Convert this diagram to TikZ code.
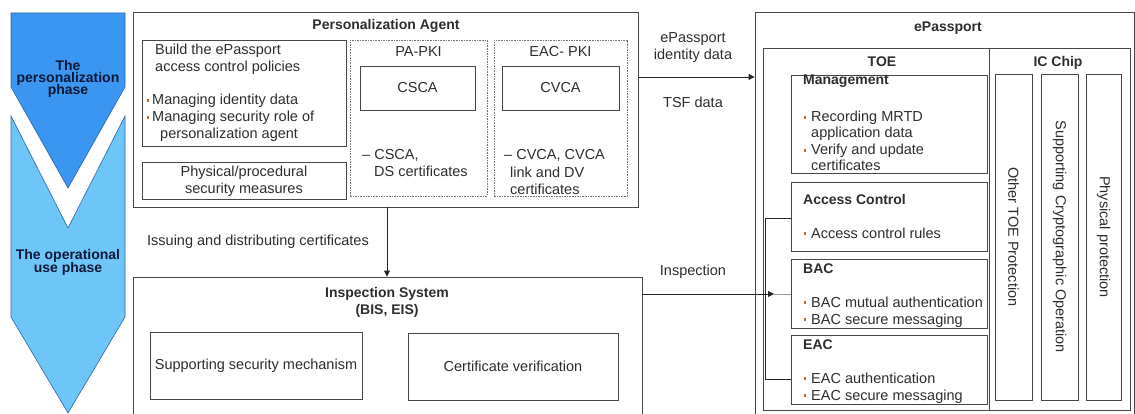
\documentclass[tikz,border=0pt]{standalone}
\usepackage{fontspec}
\setmainfont{Liberation Sans}
\usetikzlibrary{arrows.meta}
\definecolor{phaseA}{RGB}{58,150,240}
\definecolor{phaseB}{RGB}{110,198,248}
\definecolor{phaseLine}{RGB}{40,100,170}
\definecolor{navy}{RGB}{15,25,55}
\definecolor{ink}{RGB}{45,45,45}
\definecolor{bul}{RGB}{190,110,40}
\newcommand\bul[1]{\makebox[#1][l]{\hspace{0.5pt}\textcolor{bul}{\raisebox{3.2pt}{\rule{2.6pt}{2.6pt}}}}}
\begin{document}
\begin{tikzpicture}[x=1pt,y=-1pt,
 every node/.style={font=\fontsize{14.5}{17}\selectfont, text=ink},
 box/.style={draw=black!72, line width=0.9pt, inner sep=0pt},
 dbox/.style={draw=black!55, line width=0.9pt, dash pattern=on 1.6pt off 1pt, inner sep=0pt},
 txt/.style={anchor=base west, inner sep=0pt},
 ctxt/.style={anchor=base, inner sep=0pt},
 bold/.style={font=\fontsize{14}{17}\selectfont\bfseries},
 arr/.style={draw=black!85, line width=0.9pt, -{Triangle[length=6pt,width=6pt]}},
 conn/.style={draw=black!85, line width=0.9pt},
 phase/.style={draw=phaseLine, line width=0.6pt},
 phtxt/.style={anchor=base, inner sep=0pt, text=navy, font=\fontsize{14}{12.5}\selectfont\bfseries}]
\path[use as bounding box] (0,0) rectangle (1135,414);
\clip (0,0) rectangle (1135,414);

% phase arrows
\draw[phase, fill=phaseA] (11,13) -- (125,13) -- (125,87) -- (68,188) -- (11,87) -- cycle;
\draw[phase, fill=phaseB] (11,116) -- (68,228) -- (125,116) -- (125,317) -- (68,413) -- (11,317) -- cycle;
\node[phtxt] (ph1a) at (68,71) {The};
\node[phtxt] (ph1b) at (68,83) {personalization};
\node[phtxt] (ph1c) at (68,95) {phase};
\node[phtxt] (ph2a) at (68,259) {The operational};
\node[phtxt] (ph2b) at (68,272) {use phase};

% personalization agent
\node[box, minimum width=505, minimum height=195] (pa) at (385.5,109.5) {};
\node[ctxt, bold] (patitle) at (386,30) {Personalization Agent};
\node[box, minimum width=204, minimum height=106] (build) at (244,93) {};
\node[txt] (b1) at (155,55) {Build the ePassport};
\node[txt] (b2) at (155,72) {access control policies};
\node[txt] (b3) at (146,105) {\bul{6pt}Managing identity data};
\node[txt] (b4) at (146,122) {\bul{6pt}Managing security role of};
\node[txt] (b5) at (160,139) {personalization agent};
\node[box, minimum width=204, minimum height=37] (phys) at (244,180.5) {};
\node[ctxt] (ph1) at (244,177) {Physical/procedural};
\node[ctxt] (ph2) at (244,194) {security measures};
\node[dbox, minimum width=137, minimum height=156] (papki) at (418.5,118) {};
\node[dbox, minimum width=133, minimum height=156] (eacpki) at (560.5,118) {};
\node[ctxt] (papkit) at (418.5,57) {PA-PKI};
\node[ctxt] (eacpkit) at (560.5,57) {EAC- PKI};
\node[box, minimum width=115, minimum height=44] (csca) at (417.5,88) {CSCA};
\node[box, minimum width=117, minimum height=44] (cvca) at (560.5,88) {CVCA};
\node[txt] (c1) at (362,160) {-- CSCA,};
\node[txt] (c2) at (374,177) {DS certificates};
\node[txt] (d1) at (504,160) {-- CVCA, CVCA};
\node[txt] (d2) at (510,178) {link and DV};
\node[txt] (d3) at (510,195) {certificates};

% inspection system
\node[box, minimum width=509, minimum height=150] (is) at (387.5,352) {};
\node[ctxt, bold] (ist1) at (387,297) {Inspection System};
\node[ctxt, bold] (ist2) at (387,314) {(BIS, EIS)};
\node[box, minimum width=212, minimum height=67] (ssm) at (256,365.5) {Supporting security mechanism};
\node[box, minimum width=210, minimum height=67] (cv) at (513,366.5) {Certificate verification};

% ePassport
\node[box, minimum width=379, minimum height=415] (ep) at (944.5,219.5) {};
\node[ctxt, bold] (eptitle) at (948,32) {ePassport};
\node[box, minimum width=367, minimum height=362] (inner) at (946.5,229) {};
\draw[box] (inner.north -| 989,0) -- (inner.south -| 989,0);
\node[ctxt, bold] (toe) at (882,67) {TOE};
\node[ctxt, bold] (icc) at (1058,67) {IC Chip};

\node[box, minimum width=196, minimum height=98] (mgmt) at (889,124) {};
\node[txt, bold] (m0) at (803,85) {Management};
\node[txt] (m1) at (803,122) {\bul{8pt}Recording MRTD};
\node[txt] (m2) at (811,138) {application data};
\node[txt] (m3) at (803,155) {\bul{8pt}Verify and update};
\node[txt] (m4) at (811,171) {certificates};

\node[box, minimum width=196, minimum height=69] (ac) at (889,216.5) {};
\node[txt, bold] (a0) at (803,205) {Access Control};
\node[txt] (a1) at (803,238) {\bul{8pt}Access control rules};

\node[box, minimum width=196, minimum height=69] (bac) at (889,293.5) {};
\node[txt, bold] (ba0) at (803,273) {BAC};
\node[txt] (ba1) at (803,307) {\bul{8pt}BAC mutual authentication};
\node[txt] (ba2) at (803,324) {\bul{8pt}BAC secure messaging};

\node[box, minimum width=196, minimum height=69] (eacb) at (889,369.5) {};
\node[txt, bold] (e0) at (803,349) {EAC};
\node[txt] (e1) at (803,383) {\bul{8pt}EAC authentication};
\node[txt] (e2) at (803,400) {\bul{8pt}EAC secure messaging};

\node[box, minimum width=37, minimum height=326] (v1) at (1013.5,237) {};
\node[box, minimum width=37, minimum height=326] (v2) at (1059.5,237) {};
\node[box, minimum width=35, minimum height=326] (v3) at (1103.5,237) {};
\node[rotate=-90, inner sep=0pt] (v1t) at (v1.center) {Other TOE Protection};
\node[rotate=-90, inner sep=0pt] (v2t) at (v2.center) {Supporting Cryptographic Operation};
\node[rotate=-90, inner sep=0pt] (v3t) at (v3.center) {Physical protection};

% connectors
\draw[arr] (pa.east |- 0,77) -- (ep.west |- 0,77);
\node[ctxt] (l1) at (693,43) {ePassport};
\node[ctxt] (l2) at (693,60) {identity data};
\node[ctxt] (l3) at (693,108) {TSF data};

\draw[arr] (pa.south -| 387,0) -- (is.north -| 387,0);
\node[ctxt] (l4) at (258,246) {Issuing and distributing certificates};

\coordinate (tip) at (774,294);
\draw[arr] (is.east |- tip) -- (tip);
\draw[draw=black!40, line width=0.9pt] (tip) -- (bac.west |- tip);
\node[ctxt] (l5) at (693,275) {Inspection};

\coordinate (bt) at (765,218);
\coordinate (bb) at (765,379);
\draw[conn] (ac.west |- bt) -- (bt) -- (bb) -- (eacb.west |- bb);
\end{tikzpicture}
\end{document}
